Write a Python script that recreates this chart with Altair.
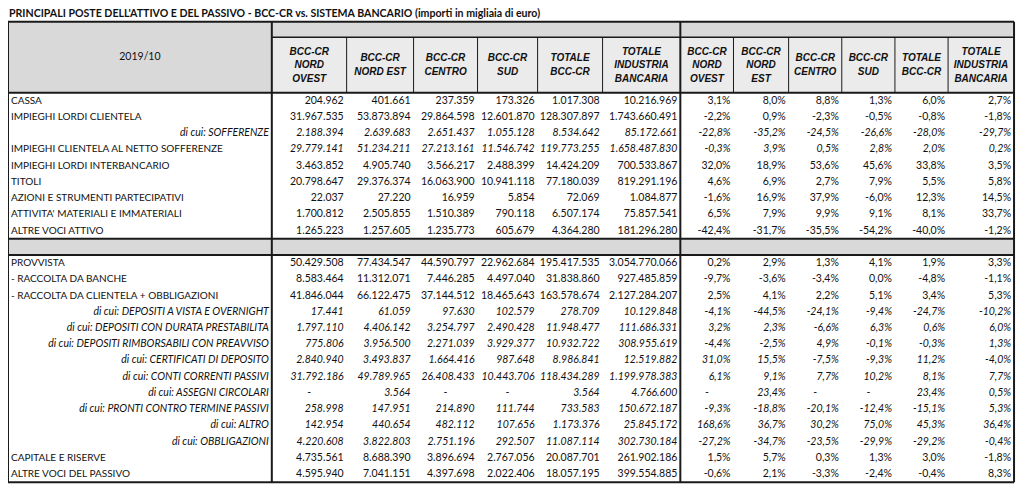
import altair as alt
import pandas as pd

# ---------------- data ----------------
TITLE = "PRINCIPALI POSTE DELL'ATTIVO E DEL PASSIVO - BCC-CR vs. SISTEMA BANCARIO  (importi in migliaia di euro)"
PERIOD = "2019/10"
HEAD_VAL = ["BCC-CR\nNORD\nOVEST", "BCC-CR\nNORD EST", "BCC-CR\nCENTRO", "BCC-CR\nSUD",
            "TOTALE\nBCC-CR", "TOTALE\nINDUSTRIA\nBANCARIA"]
HEAD_PCT = ["BCC-CR\nNORD\nOVEST", "BCC-CR\nNORD\nEST", "BCC-CR\nCENTRO", "BCC-CR\nSUD",
            "TOTALE\nBCC-CR", "TOTALE\nINDUSTRIA\nBANCARIA"]

ROWS_ATT = ["CASSA", "IMPIEGHI LORDI CLIENTELA", "di cui: SOFFERENZE",
            "IMPIEGHI  CLIENTELA AL NETTO SOFFERENZE", "IMPIEGHI LORDI INTERBANCARIO", "TITOLI",
            "AZIONI E STRUMENTI PARTECIPATIVI", "ATTIVITA' MATERIALI E IMMATERIALI", "ALTRE VOCI ATTIVO"]
ATT_NO = [204962, 31967535, 2188394, 29779141, 3463852, 20798647, 22037, 1700812, 1265223]
ATT_NE = [401661, 53873894, 2639683, 51234211, 4905740, 29376374, 27220, 2505855, 1257605]
ATT_CE = [237359, 29864598, 2651437, 27213161, 3566217, 16063900, 16959, 1510389, 1235773]
ATT_SUD = [173326, 12601870, 1055128, 11546742, 2488399, 10941118, 5854, 790118, 605679]
ATT_TOT = [1017308, 128307897, 8534642, 119773255, 14424209, 77180039, 72069, 6507174, 4364280]
ATT_IND = [10216969, 1743660491, 85172661, 1658487830, 700533867, 819291196, 1084877, 75857541, 181296280]
ATT_P_NO = [3.1, -2.2, -22.8, -0.3, 32.0, 4.6, -1.6, 6.5, -42.4]
ATT_P_NE = [8.0, 0.9, -35.2, 3.9, 18.9, 6.9, 16.9, 7.9, -31.7]
ATT_P_CE = [8.8, -2.3, -24.5, 0.5, 53.6, 2.7, 37.9, 9.9, -35.5]
ATT_P_SUD = [1.3, -0.5, -26.6, 2.8, 45.6, 7.9, -6.0, 9.1, -54.2]
ATT_P_TOT = [6.0, -0.8, -28.0, 2.0, 33.8, 5.5, 12.3, 8.1, -40.0]
ATT_P_IND = [2.7, -1.8, -29.7, 0.2, 3.5, 5.8, 14.5, 33.7, -1.2]

ROWS_PAS = ["PROVVISTA", " - RACCOLTA DA BANCHE", " - RACCOLTA DA CLIENTELA + OBBLIGAZIONI",
            "di cui: DEPOSITI A  VISTA E OVERNIGHT", "di cui: DEPOSITI CON DURATA PRESTABILITA",
            "di cui: DEPOSITI RIMBORSABILI CON PREAVVISO", "di cui: CERTIFICATI DI DEPOSITO",
            "di cui: CONTI CORRENTI PASSIVI", "di cui: ASSEGNI CIRCOLARI",
            "di cui: PRONTI CONTRO TERMINE PASSIVI", "di cui: ALTRO", "di cui: OBBLIGAZIONI",
            "CAPITALE E RISERVE", "ALTRE VOCI DEL PASSIVO"]
PAS_NO = [50429508, 8583464, 41846044, 17441, 1797110, 775806, 2840940, 31792186, None, 258998, 142954, 4220608, 4735561, 4595940]
PAS_NE = [77434547, 11312071, 66122475, 61059, 4406142, 3956500, 3493837, 49789965, 3564, 147951, 440654, 3822803, 8688390, 7041151]
PAS_CE = [44590797, 7446285, 37144512, 97630, 3254797, 2271039, 1664416, 26408433, None, 214890, 482112, 2751196, 3896694, 4397698]
PAS_SUD = [22962684, 4497040, 18465643, 102579, 2490428, 3929377, 987648, 10443706, None, 111744, 107656, 292507, 2767056, 2022406]
PAS_TOT = [195417535, 31838860, 163578674, 278709, 11948477, 10932722, 8986841, 118434289, 3564, 733583, 1173376, 11087114, 20087701, 18057195]
PAS_IND = [3054770066, 927485859, 2127284207, 10129848, 111686331, 308955619, 12519882, 1199978383, 4766600, 150672187, 25845172, 302730184, 261902186, 399554885]
PAS_P_NO = [0.2, -9.7, 2.5, -4.1, 3.2, -4.4, 31.0, 6.1, None, -9.3, 168.6, -27.2, 1.5, -0.6]
PAS_P_NE = [2.9, -3.6, 4.1, -44.5, 2.3, -2.5, 15.5, 9.1, 23.4, -18.8, 36.7, -34.7, 5.7, 2.1]
PAS_P_CE = [1.3, -3.4, 2.2, -24.1, -6.6, 4.9, -7.5, 7.7, None, -20.1, 30.2, -23.5, 0.3, -3.3]
PAS_P_SUD = [4.1, 0.0, 5.1, -9.4, 6.3, -0.1, -9.3, 10.2, None, -12.4, 75.0, -29.9, 1.3, -2.4]
PAS_P_TOT = [1.9, -4.8, 3.4, -24.7, 0.6, -0.3, 11.2, 8.1, 23.4, -15.1, 45.3, -29.2, 3.0, -0.4]
PAS_P_IND = [3.3, -1.1, 5.3, -10.2, 6.0, 1.3, -4.0, 7.7, 0.5, 5.3, 36.4, -0.4, -1.8, 8.3]

# ---------------- layout / style ----------------
XE = [0, 268, 344, 412, 477, 538, 604, 683, 737, 793, 847, 901, 955, 1022]   # column edges
Y_TOP, Y_BAND, Y_HEAD = 17, 33, 90
RH = 16.67
B1_TOP = Y_HEAD
SEP_TOP = B1_TOP + len(ROWS_ATT) * RH
B2_TOP = SEP_TOP + RH
BOTTOM = B2_TOP + len(ROWS_PAS) * RH
ITALIC_VAL_ATT = {2, 3}
ITALIC_VAL_PAS = set(range(3, 12))

FONT = "Lato, sans-serif"
HFONT = "'Liberation Sans', Arial, sans-serif"
FS = 10.5
HLH = 13.5
GREY = "#d9d9d9"
LIGHT = "#ebebeb"


def fmt_val(v):
    return "-" if v is None else f"{v:,}".replace(",", ".")


def fmt_pct(p):
    return "-" if p is None else f"{p:.1f}%".replace(".", ",")


cells = []
blocks = [
    (ROWS_ATT, [ATT_NO, ATT_NE, ATT_CE, ATT_SUD, ATT_TOT, ATT_IND],
     [ATT_P_NO, ATT_P_NE, ATT_P_CE, ATT_P_SUD, ATT_P_TOT, ATT_P_IND], B1_TOP, ITALIC_VAL_ATT),
    (ROWS_PAS, [PAS_NO, PAS_NE, PAS_CE, PAS_SUD, PAS_TOT, PAS_IND],
     [PAS_P_NO, PAS_P_NE, PAS_P_CE, PAS_P_SUD, PAS_P_TOT, PAS_P_IND], B2_TOP, ITALIC_VAL_PAS),
]
labels = []
for rows, vals, pcts, top, ital in blocks:
    for i, lab in enumerate(rows):
        yc = top + (i + 0.5) * RH
        if lab.startswith("di cui:"):
            labels.append({"x": XE[1] - 3, "y": yc, "t": lab, "k": "lab_it"})
        else:
            labels.append({"x": 3, "y": yc, "t": lab, "k": "lab"})
        style = "it" if i in ital else "n"
        for j in range(6):
            for series, fmt, c0 in ((vals, fmt_val, 1), (pcts, fmt_pct, 7)):
                v = series[j][i]
                left, right = XE[c0 + j], XE[c0 + j + 1]
                if v is None:
                    cells.append({"x": (left + right) / 2, "y": yc, "t": "-", "k": "dash"})
                else:
                    cells.append({"x": right - 3, "y": yc, "t": fmt(v), "k": style})

heads = []
hc = (Y_BAND + Y_HEAD) / 2
for j in range(6):
    for txt_, c0 in ((HEAD_VAL[j], 1), (HEAD_PCT[j], 7)):
        n = txt_.count("\n") + 1
        heads.append({"x": (XE[c0 + j] + XE[c0 + j + 1]) / 2,
                      "y": hc - (n - 1) / 2 * HLH, "t": txt_})

rects = pd.DataFrame([
    {"x": XE[0], "x2": XE[1], "y": Y_TOP, "y2": Y_HEAD, "c": GREY},
    {"x": XE[1], "x2": XE[-1], "y": Y_TOP, "y2": Y_BAND, "c": GREY},
    {"x": XE[1], "x2": XE[-1], "y": Y_BAND, "y2": Y_HEAD, "c": LIGHT},
    {"x": XE[0], "x2": XE[-1], "y": SEP_TOP, "y2": B2_TOP, "c": GREY},
])

rules = [
    {"x": XE[0], "x2": XE[-1], "y": Y_TOP, "y2": Y_TOP, "w": 2},
    {"x": XE[1], "x2": XE[-1], "y": Y_BAND, "y2": Y_BAND, "w": 1.5},
    {"x": XE[0], "x2": XE[-1], "y": Y_HEAD, "y2": Y_HEAD, "w": 2},
    {"x": XE[0], "x2": XE[-1], "y": SEP_TOP, "y2": SEP_TOP, "w": 2},
    {"x": XE[0], "x2": XE[-1], "y": B2_TOP, "y2": B2_TOP, "w": 2},
    {"x": XE[0], "x2": XE[-1], "y": BOTTOM, "y2": BOTTOM, "w": 2},
]
for xe in (XE[0], XE[1], XE[7], XE[-1]):
    rules.append({"x": xe, "x2": xe, "y": Y_TOP, "y2": BOTTOM, "w": 2})
for xe in XE[2:7] + XE[8:13]:
    rules.append({"x": xe, "x2": xe, "y": Y_BAND, "y2": Y_HEAD, "w": 1})
rules = pd.DataFrame(rules)

xs = alt.Scale(domain=[0, 1024], nice=False, zero=False)
ys = alt.Scale(domain=[3, 492], nice=False, zero=False, reverse=True)
X = alt.X("x:Q", scale=xs, axis=None)
Y = alt.Y("y:Q", scale=ys, axis=None)

rect_layer = alt.Chart(rects).mark_rect().encode(
    x=X, x2="x2:Q", y=Y, y2="y2:Q", color=alt.Color("c:N", scale=None))
rule_layer = alt.Chart(rules).mark_rule(color="#1a1a1a").encode(
    x=X, x2="x2:Q", y=Y, y2="y2:Q", strokeWidth=alt.StrokeWidth("w:Q", scale=None))

lab_df = pd.DataFrame(labels)
cell_df = pd.DataFrame(cells)


def txt(df, **kw):
    base = dict(font=FONT, fontSize=FS, color="#111111", baseline="middle")
    base.update(kw)
    return alt.Chart(df).mark_text(**base).encode(x=X, y=Y, text="t:N")


lab_n = txt(lab_df[lab_df.k == "lab"], align="left", fontSize=10)
lab_i = txt(lab_df[lab_df.k == "lab_it"], align="right", fontStyle="italic")
val_n = txt(cell_df[cell_df.k == "n"], align="right")
val_i = txt(cell_df[cell_df.k == "it"], align="right", fontStyle="italic")
val_d = txt(cell_df[cell_df.k == "dash"], align="center")
head_l = txt(pd.DataFrame(heads), align="center", font=HFONT, fontSize=10, fontWeight="bold",
             fontStyle="italic", lineBreak="\n", lineHeight=HLH)
period = txt(pd.DataFrame([{"x": (XE[0] + XE[1]) / 2, "y": (Y_TOP + Y_HEAD) / 2, "t": PERIOD}]),
             align="center")
title = txt(pd.DataFrame([{"x": 1, "y": 9.5, "t": TITLE}]), align="left", fontWeight="bold",
            fontSize=10.6)

chart = alt.layer(rect_layer, rule_layer, period, head_l, lab_n, lab_i, val_n, val_i, val_d, title).properties(
    width=1008, height=476, padding=0, autosize="none"
).configure_view(stroke=None)

chart.save("out.html", embed_options={"renderer": "svg", "actions": False})
